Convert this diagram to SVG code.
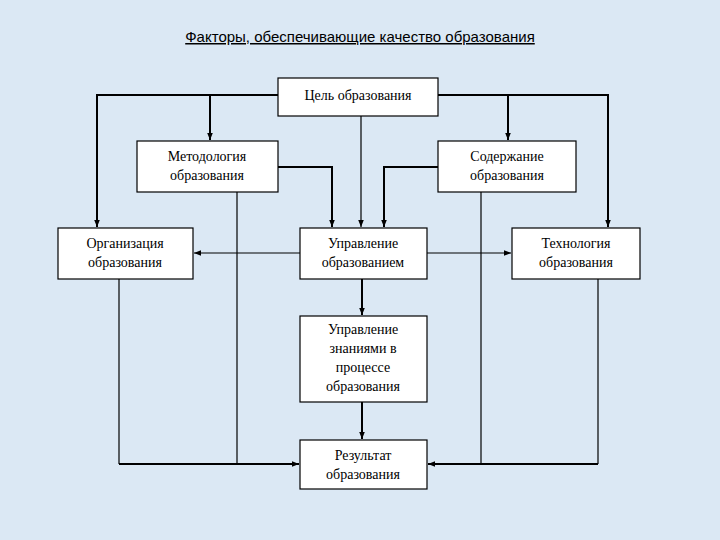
<svg xmlns="http://www.w3.org/2000/svg" width="720" height="540" viewBox="0 0 720 540">
<defs>
<marker id="a" viewBox="0 0 10 10" refX="10" refY="5" markerWidth="7" markerHeight="7" markerUnits="userSpaceOnUse" orient="auto"><path d="M0,1 L10,5 L0,9 z" fill="#000"/></marker>
<style>
.b{fill:#fff;stroke:#000;stroke-width:1.2}
.t{font-family:"Liberation Serif",serif;font-size:14px;text-anchor:middle;fill:#000}
.c{fill:none;stroke:#000;stroke-width:1.2}
.ca{fill:none;stroke:#000;stroke-width:2;marker-end:url(#a)}
</style>
</defs>
<rect width="720" height="540" fill="#dbe8f4"/>
<text x="360" y="42" font-family="Liberation Sans,sans-serif" font-size="15" text-anchor="middle" text-decoration="underline">Факторы, обеспечивающие качество образования</text>
<g id="connectors">
<path class="ca" d="M278,95 H97 V227"/>
<path class="ca" d="M210,95 V140"/>
<path class="ca" d="M438,95 H608 V227"/>
<path class="ca" d="M508,95 V140"/>
<path class="c" d="M361,116 V227" marker-end="url(#a)"/>
<path class="ca" d="M278,167 H332 V227"/>
<path class="ca" d="M438,167 H384 V227"/>
<path class="c" d="M300,253 H194" marker-end="url(#a)"/>
<path class="c" d="M427,253 H511" marker-end="url(#a)"/>
<path class="c" d="M237,192 V464"/>
<path class="c" d="M481,192 V464"/>
<path class="c" d="M119,279 V464"/>
<path class="c" d="M598,279 V464"/>
<path class="ca" d="M119,464 H299"/>
<path class="ca" d="M598,464 H428"/>
<path class="ca" d="M362,279 V315"/>
<path class="ca" d="M362,402 V439"/>
</g>
<g id="goal"><rect class="b" x="278" y="78" width="160" height="38"/><text class="t" x="358" y="100">Цель образования</text></g>
<g id="method"><rect class="b" x="137" y="141" width="141" height="51"/><text class="t" x="207" y="161">Методология</text><text class="t" x="207" y="180">образования</text></g>
<g id="content"><rect class="b" x="438" y="141" width="138" height="51"/><text class="t" x="507" y="161">Содержание</text><text class="t" x="507" y="180">образования</text></g>
<g id="org"><rect class="b" x="58" y="228" width="135" height="51"/><text class="t" x="125" y="248">Организация</text><text class="t" x="125" y="267">образования</text></g>
<g id="mgmt"><rect class="b" x="300" y="228" width="127" height="51"/><text class="t" x="363" y="248">Управление</text><text class="t" x="363" y="267">образованием</text></g>
<g id="tech"><rect class="b" x="512" y="228" width="128" height="51"/><text class="t" x="576" y="248">Технология</text><text class="t" x="576" y="267">образования</text></g>
<g id="knowledge"><rect class="b" x="300" y="316" width="127" height="86"/><text class="t" x="363" y="334">Управление</text><text class="t" x="363" y="353">знаниями в</text><text class="t" x="363" y="372">процессе</text><text class="t" x="363" y="391">образования</text></g>
<g id="result"><rect class="b" x="300" y="440" width="127" height="49"/><text class="t" x="363" y="460">Результат</text><text class="t" x="363" y="479">образования</text></g>
</svg>
